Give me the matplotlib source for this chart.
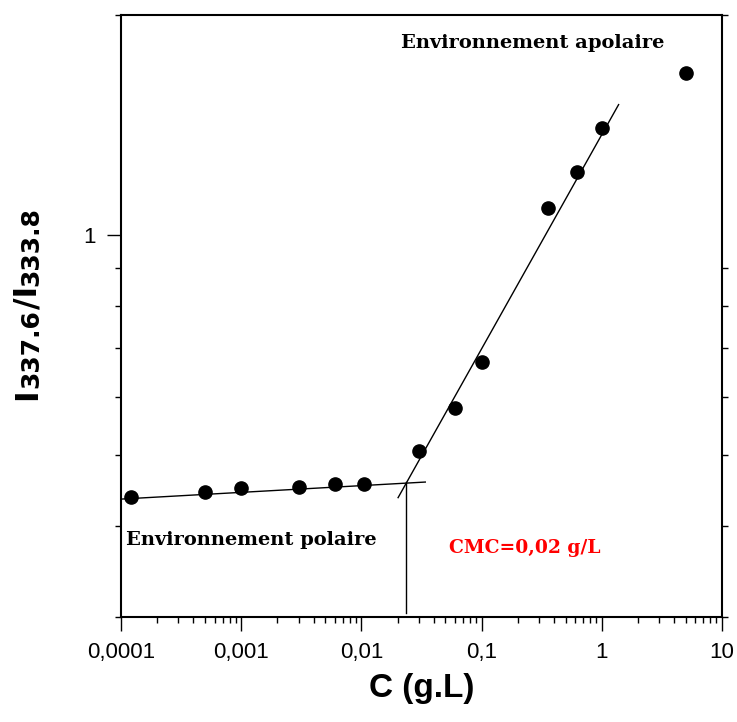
import matplotlib
matplotlib.use("Agg")
import matplotlib.pyplot as plt
from matplotlib.ticker import FixedLocator, NullFormatter, FixedFormatter
import numpy as np

# Data
conc = [0.00012, 0.0005, 0.001, 0.003, 0.006, 0.0105, 0.03, 0.06, 0.1, 0.36, 0.62, 1.0, 5.0]
ratio = [0.438, 0.445, 0.450, 0.452, 0.456, 0.456, 0.506, 0.579, 0.670, 1.088, 1.218, 1.40, 1.664]

# Fitted lines
low_fit_x = [0.0001, 0.034]
low_fit_y = [0.435, 0.459]
high_fit_x = [0.0202, 1.38]
high_fit_y = [0.437, 1.508]
cmc_x = [0.0233, 0.0233]
cmc_y = [0.304, 0.459]

xtick_vals = [0.0001, 0.001, 0.01, 0.1, 1, 10]
xtick_labels = ['0,0001', '0,001', '0,01', '0,1', '1', '10']

W, H = 737, 722
fig = plt.figure(figsize=(W / 100, H / 100), dpi=100)
ax = fig.add_axes([121/W, 1-617/H, (722-121)/W, (617-15)/H])

ax.set_xscale('log')
ax.set_yscale('log')
ax.set_xlim(0.0001, 10)
ax.set_ylim(0.3, 2.0)

ax.plot(low_fit_x, low_fit_y, color='black', lw=1)
ax.plot(high_fit_x, high_fit_y, color='black', lw=1)
ax.plot(cmc_x, cmc_y, color='black', lw=1)
ax.plot(conc, ratio, 'o', color='black', markersize=9.5, zorder=5)

# x ticks
ax.xaxis.set_major_locator(FixedLocator(xtick_vals))
ax.xaxis.set_major_formatter(FixedFormatter(xtick_labels))
minor_x = [m * 10.0**e for e in range(-4, 1) for m in range(2, 10)]
ax.xaxis.set_minor_locator(FixedLocator(minor_x))
ax.xaxis.set_minor_formatter(NullFormatter())

# y ticks
ax.yaxis.set_major_locator(FixedLocator([1]))
ax.yaxis.set_major_formatter(FixedFormatter(['1']))
ax.yaxis.set_minor_locator(FixedLocator([0.3, 0.4, 0.5, 0.6, 0.7, 0.8, 0.9, 2.0]))
ax.yaxis.set_minor_formatter(NullFormatter())

ax.tick_params(axis='both', which='major', direction='out', length=10, width=1,
               labelsize=16, colors='black')
ax.tick_params(axis='both', which='minor', direction='out', length=4.5, width=1)
ax.tick_params(axis='x', which='both', top=False)
ax.tick_params(axis='y', which='minor', right=True)
ax.tick_params(axis='y', which='major', right=False)
for lbl in ax.get_xticklabels() + ax.get_yticklabels():
    lbl.set_fontfamily('Liberation Sans')
ax.tick_params(axis='x', which='major', pad=8)
ax.tick_params(axis='y', which='major', pad=8)

for s in ax.spines.values():
    s.set_linewidth(1.5)

ax.set_xlabel('C (g.L)', fontsize=24, fontweight='bold', family='Liberation Sans', labelpad=7)

# y label built from pieces (main text + large subscripts), rotated
renderer = fig.canvas.get_renderer()
pieces = [('I', 22.7, 0.0), ('337.6', 18, 2.0), ('/I', 22.7, 0.0), ('333.8', 18, 2.0)]
x_base = 36.0   # pixel x of the baseline (from the left)
y_pos = H - 400.0  # pixel y of the start (from the bottom)
for s, fs, shift in pieces:
    t = fig.text((x_base + shift) / W, y_pos / H, s, rotation=90, rotation_mode='anchor',
                 ha='left', va='baseline', fontsize=fs, fontweight='bold',
                 family='DejaVu Sans')
    bb = t.get_window_extent(renderer)
    y_pos += bb.height

serif = ['DejaVu Serif']
ax.text(0.0215, 1.83, 'Environnement apolaire', fontsize=14, fontweight='bold',
        family=serif, va='center', ha='left')
ax.text(0.00011, 0.382, 'Environnement polaire', fontsize=14, fontweight='bold',
        family=serif, va='center', ha='left')
ax.text(0.054, 0.3726, 'CMC=0,02 g/L', fontsize=13.5, fontweight='bold',
        family=serif, va='center', ha='left', color='#ff0000')

fig.savefig('out.png', dpi=100)
